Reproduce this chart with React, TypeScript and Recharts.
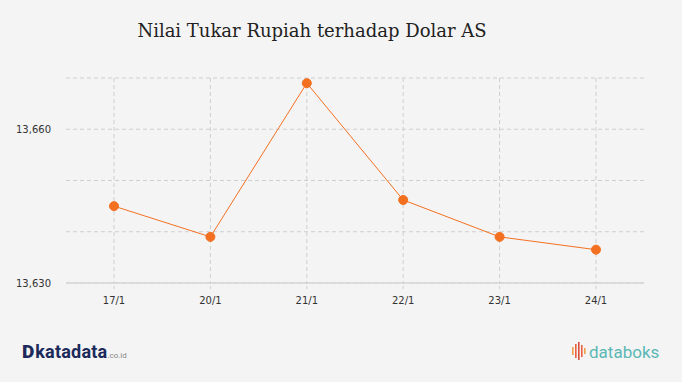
import { CartesianGrid, Line, LineChart, XAxis, YAxis } from 'recharts'

const dates = ['17/1', '20/1', '21/1', '22/1', '23/1', '24/1']
const kurs = [13645, 13639, 13669, 13646.2, 13639, 13636.5]
const yTicks = [13630, 13640, 13650, 13660, 13670]
const labelledTicks = [13630, 13660]

const rows = dates.map((d, i) => ({ date: d, kurs: kurs[i] }))

const W = 682
const H = 382
const PAD_X = 48
const ORANGE = '#f37021'
const GRID = '#cfcfcf'

const axisTick = { fill: '#333', fontSize: 10, fontFamily: 'DejaVu Sans, Verdana, sans-serif' }

// vertical grid only at the category centres, not on the plot edges
const verticalAtTicks = ({ offset }: any) => {
  const step = (offset.width - PAD_X * 2) / (dates.length - 1)
  return dates.map((_, i) => offset.left + PAD_X + i * step)
}

function DataboksIcon() {
  const bars = [
    { h: 8, y: 5, c: '#f0a04b' },
    { h: 14, y: 2, c: '#e8603c' },
    { h: 18, y: 0, c: '#d94f3d' },
    { h: 12, y: 3, c: '#e8603c' },
    { h: 6, y: 6, c: '#f0a04b' },
  ]
  return (
    <svg width={15} height={20} style={{ display: 'block' }}>
      {bars.map((b, i) => (
        <rect key={i} x={i * 3} y={b.y} width={1.6} height={b.h} fill={b.c} />
      ))}
    </svg>
  )
}

export default function App() {
  return (
    <div
      style={{
        position: 'fixed',
        left: 0,
        top: 0,
        width: W,
        height: H,
        background: '#f4f4f4',
        overflow: 'hidden',
      }}
    >
      <div
        style={{
          position: 'absolute',
          left: 0,
          top: 20,
          width: 624,
          textAlign: 'center',
          fontFamily: 'DejaVu Serif, serif',
          fontSize: 18,
          color: '#222',
        }}
      >
        Nilai Tukar Rupiah terhadap Dolar AS
      </div>
      <LineChart
        width={W}
        height={H}
        data={rows}
        margin={{ top: 78, right: 38, left: 10, bottom: 69 }}
        style={{ position: 'absolute', left: 0, top: 0 }}
      >
        <CartesianGrid
          stroke={GRID}
          strokeDasharray="4 3"
          verticalCoordinatesGenerator={verticalAtTicks}
        />
        <XAxis
          dataKey="date"
          padding={{ left: PAD_X, right: PAD_X }}
          tick={axisTick}
          axisLine={{ stroke: '#d6d6d6', strokeWidth: 1.5 }}
          tickLine={{ stroke: GRID, strokeDasharray: '3 2' }}
          tickSize={6}
          tickMargin={8}
          height={30}
        />
        <YAxis
          domain={[13630, 13670]}
          ticks={yTicks}
          tickFormatter={(v: number) =>
            labelledTicks.includes(v) ? v.toLocaleString('en-US') : ''
          }
          tick={axisTick}
          axisLine={false}
          tickLine={false}
          tickSize={0}
          tickMargin={15}
          width={56}
        />
        <Line
          type="linear"
          dataKey="kurs"
          stroke={ORANGE}
          strokeWidth={1}
          dot={{ r: 4.5, fill: ORANGE, stroke: ORANGE, strokeWidth: 1 }}
          activeDot={false}
          isAnimationActive={false}
        />
      </LineChart>
      <div
        style={{
          position: 'absolute',
          left: 22,
          top: 340,
          display: 'flex',
          alignItems: 'baseline',
          fontFamily: 'Liberation Sans Narrow, Roboto, sans-serif',
          color: '#1b2a5a',
        }}
      >
        <span style={{ fontSize: 19, fontWeight: 900, marginRight: 1 }}>D</span>
        <span style={{ fontSize: 18, fontWeight: 700, letterSpacing: 0.2 }}>katadata</span>
        <span style={{ fontSize: 8, color: '#888' }}>.co.id</span>
      </div>
      <div
        style={{
          position: 'absolute',
          left: 572,
          top: 342,
          display: 'flex',
          alignItems: 'center',
          fontFamily: 'Roboto, sans-serif',
          color: '#5bb8b4',
          fontSize: 17,
        }}
      >
        <DataboksIcon />
        <span style={{ marginLeft: 2 }}>databoks</span>
      </div>
    </div>
  )
}
